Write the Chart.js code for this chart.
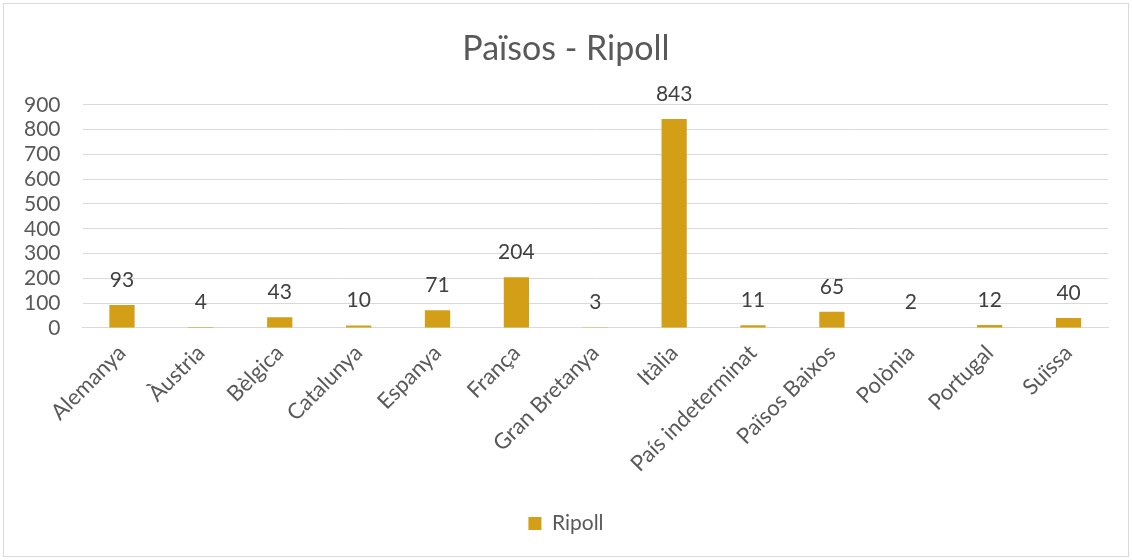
<!DOCTYPE html>
<html><head><meta charset="utf-8">
<script src="https://cdn.jsdelivr.net/npm/chart.js@4/dist/chart.umd.min.js"></script>
<style>
html,body{margin:0;padding:0;background:#fff;}
#wrap{position:absolute;left:3px;top:3px;width:1124px;height:552px;border:1px solid #d9d9d9;}
canvas{display:block;}
</style></head><body>
<div id="wrap"><canvas id="c" width="1124" height="552"></canvas></div>
<script>
const categories = ["Alemanya","Àustria","Bèlgica","Catalunya","Espanya","França","Gran Bretanya","Itàlia","País indeterminat","Països Baixos","Polònia","Portugal","Suïssa"];
const ripollValues = [93,4,43,10,71,204,3,843,11,65,2,12,40];
const yTicks = [0,100,200,300,400,500,600,700,800,900];

const FONT = "Lato, 'Open Sans', sans-serif";
const TXT = "#595959";

const labelPlugin = {
  id: 'barLabels',
  afterDatasetsDraw(chart){
    const ctx = chart.ctx;
    const meta = chart.getDatasetMeta(0);
    ctx.save();
    ctx.font = "21px " + FONT;
    ctx.fillStyle = "#404040";
    ctx.textAlign = "center";
    ctx.textBaseline = "middle";
    meta.data.forEach((el,i)=>{
      ctx.fillText(String(ripollValues[i]), el.x, el.y - 25);
    });
    ctx.restore();
  }
};

new Chart(document.getElementById('c'), {
  type: 'bar',
  data: {
    labels: categories,
    datasets: [{
      label: 'Ripoll',
      data: ripollValues,
      backgroundColor: '#D29F16',
      borderWidth: 0,
      barPercentage: 0.32,
      categoryPercentage: 1.0
    }]
  },
  options: {
    responsive: false,
    animation: false,
    devicePixelRatio: 1,
    layout: { padding: { left: 20, right: 20, top: 6, bottom: 12 } },
    plugins: {
      title: { display: true, text: 'Països - Ripoll', color: TXT, font: { family: FONT, size: 34, weight: 'normal' }, padding: { top: 19, bottom: 35 } },
      legend: { display: true, position: 'bottom', labels: { color: TXT, font: { family: FONT, size: 21 }, boxWidth: 13, boxHeight: 13, padding: 14 } },
      tooltip: { enabled: false }
    },
    scales: {
      x: {
        afterFit(scale){ scale.paddingLeft = 0; scale.paddingRight = 0; scale.height += 18; },
        grid: { display: false },
        border: { display: true, color: '#d9d9d9' },
        ticks: { color: TXT, font: { family: FONT, size: 22 }, minRotation: 45, maxRotation: 45, autoSkip: false, padding: 4 }
      },
      y: {
        min: 0, max: 900,
        afterBuildTicks(axis){ axis.ticks = yTicks.map(v=>({value:v})); },
        afterFit(scale){ scale.width -= 22; },
        grid: { color: '#d9d9d9', lineWidth: 1, drawTicks: false },
        border: { display: false },
        ticks: { color: TXT, font: { family: FONT, size: 21 }, padding: 22, autoSkip: false }
      }
    }
  },
  plugins: [labelPlugin]
});
</script>
</body></html>
